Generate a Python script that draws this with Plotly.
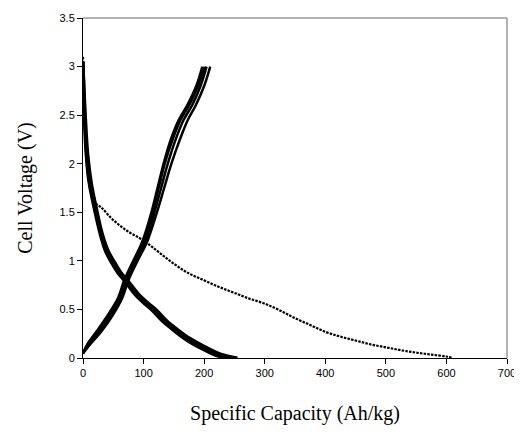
import plotly.graph_objects as go

# First (long) discharge
first_cap = [0, 2, 5, 10, 20, 30, 50, 75, 100, 125, 150, 175, 200, 225, 250, 275,
             300, 325, 350, 375, 400, 425, 450, 475, 500, 525, 550, 575, 600, 610]
first_v = [3.1, 2.6, 2.1, 1.8, 1.6, 1.55, 1.42, 1.3, 1.21, 1.09, 0.97, 0.87, 0.80, 0.73,
           0.67, 0.61, 0.56, 0.49, 0.41, 0.34, 0.27, 0.22, 0.18, 0.14, 0.11, 0.08,
           0.055, 0.035, 0.015, 0.0]

# Subsequent discharge cycles
dis_v = [3.05, 2.5, 2.1, 1.8, 1.55, 1.28, 1.1, 0.98, 0.88, 0.79, 0.65, 0.56, 0.49,
         0.38, 0.3, 0.23, 0.17, 0.1, 0.04, 0.0]
dis_cap_1 = [0, 2, 5, 10, 18, 28, 37, 47, 57, 69, 86, 101, 114, 131, 146, 160, 174, 194, 214, 232]
dis_cap_2 = [0, 3, 6, 12, 20, 30, 40, 50, 60, 72, 90, 105, 118, 135, 150, 165, 180, 200, 220, 242]
dis_cap_3 = [0, 4, 8, 14, 22, 32, 42, 53, 63, 75, 93, 109, 122, 139, 155, 170, 186, 207, 228, 255]

# Charge cycles
chg_v = [0.05, 0.15, 0.27, 0.45, 0.62, 0.8, 1.0, 1.2, 1.5, 1.75, 2.0, 2.25, 2.45, 2.6, 2.8, 3.0]
chg_cap_1 = [0, 8, 22, 42, 58, 68, 83, 98, 113, 123, 133, 145, 158, 172, 187, 197]
chg_cap_2 = [0, 10, 25, 45, 60, 70, 85, 100, 115, 125, 135, 148, 161, 175, 190, 201]
chg_cap_3 = [0, 12, 28, 48, 63, 73, 88, 103, 118, 129, 140, 153, 166, 180, 194, 204]
chg_cap_4 = [0, 13, 30, 50, 65, 75, 90, 106, 122, 134, 146, 160, 173, 186, 200, 210]

x_ticks = [0, 100, 200, 300, 400, 500, 600, 700]
y_ticks = [0, 0.5, 1, 1.5, 2, 2.5, 3, 3.5]

fig = go.Figure()
for cap in [dis_cap_1, dis_cap_2, dis_cap_3]:
    fig.add_trace(go.Scatter(x=cap, y=dis_v, mode="lines",
                             line=dict(color="black", width=3, shape="spline"),
                             showlegend=False))
for cap in [chg_cap_1, chg_cap_2, chg_cap_3, chg_cap_4]:
    fig.add_trace(go.Scatter(x=cap, y=chg_v, mode="lines",
                             line=dict(color="black", width=2.5, shape="spline"),
                             showlegend=False))
fig.add_trace(go.Scatter(x=first_cap, y=first_v, mode="lines",
                         line=dict(color="black", width=2.2, dash="2.5px,1.2px", shape="spline"),
                         showlegend=False))

axis_font = dict(family="Liberation Sans, Arial", size=11, color="black")
title_font = dict(family="Liberation Serif, Times New Roman", size=20, color="black")

fig.update_layout(
    width=514, height=428,
    margin=dict(l=75, r=15, t=10, b=78, autoexpand=False),
    paper_bgcolor="white", plot_bgcolor="white",
    xaxis=dict(range=[0, 700], tickvals=x_ticks, ticks="outside", ticklen=5,
               tickcolor="black", showline=True, linecolor="black", linewidth=1,
               showgrid=False, zeroline=False, tickfont=axis_font,
               title=dict(text="Specific Capacity (Ah/kg)", font=title_font, standoff=27)),
    yaxis=dict(range=[0, 3.5], tickvals=y_ticks, ticks="outside", ticklen=5,
               tickcolor="black", showline=True, linecolor="black", linewidth=1,
               showgrid=False, zeroline=False, tickfont=axis_font,
               title=dict(text="Cell Voltage (V)", font=title_font, standoff=21)),
    shapes=[
        dict(type="line", xref="paper", yref="paper", x0=0, x1=1, y0=1, y1=1,
             line=dict(color="#999999", width=1.5)),
        dict(type="line", xref="paper", yref="paper", x0=1, x1=1, y0=0, y1=1,
             line=dict(color="#999999", width=1.5)),
    ],
)

fig.write_html("out.html")
